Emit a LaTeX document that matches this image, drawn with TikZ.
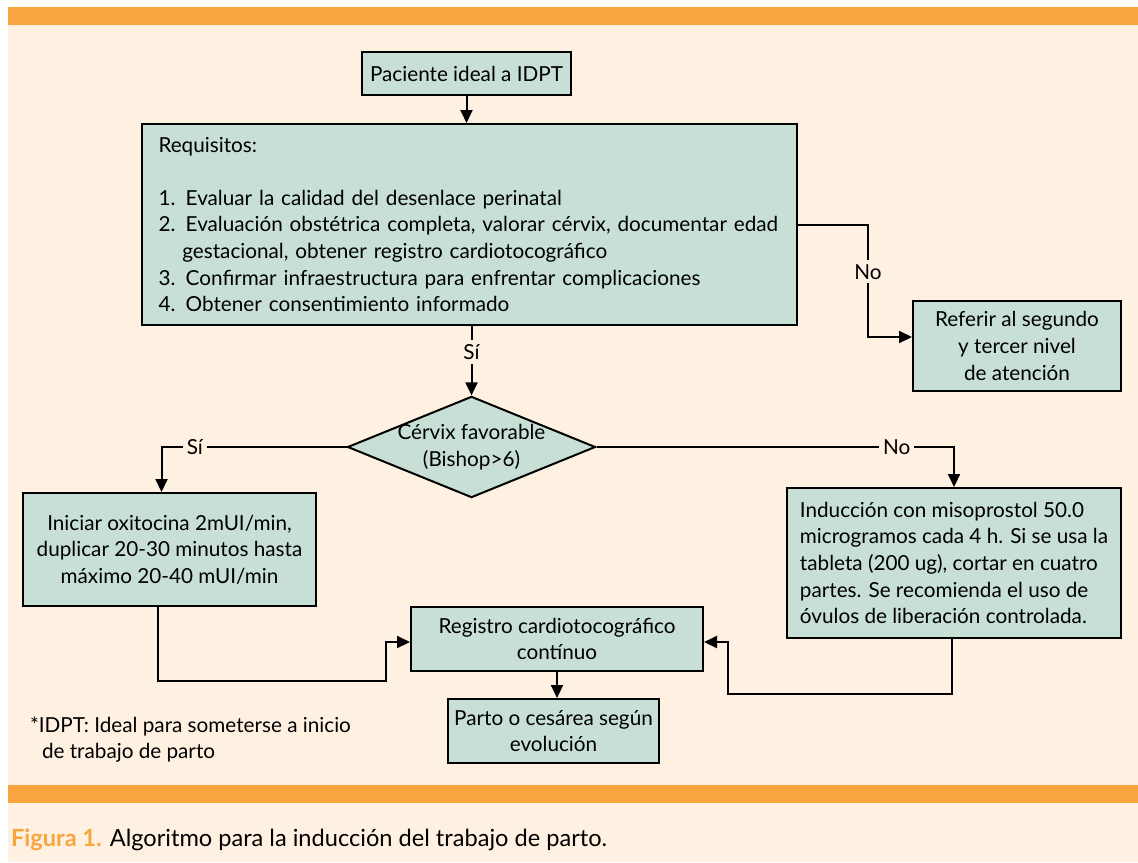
\documentclass[tikz,border=0pt]{standalone}
\usepackage{fontspec}
\setmainfont{Lato}
\usetikzlibrary{arrows.meta,positioning,calc,shapes.geometric}
\definecolor{crema}{RGB}{254,241,226}
\definecolor{naranja}{RGB}{248,165,63}
\definecolor{verde}{RGB}{199,223,212}
\newcommand{\txtsz}{\fontsize{10.35}{13.3}\selectfont}
\newcommand{\capsz}{\fontsize{11.8}{14}\selectfont}

\begin{document}
\begin{tikzpicture}[x=0.5pt,y=-0.5pt,>={Triangle[length=6.5pt,width=6pt]},line width=1pt,
  bx/.style={rectangle,draw,fill=verde,inner sep=0pt,align=center,font=\txtsz},
  dm/.style={diamond,draw,fill=verde,inner sep=-0.8pt,aspect=2.45,align=center,font=\txtsz},
  lb/.style={fill=crema,inner sep=2pt,font=\txtsz}]
\useasboundingbox (0,0) rectangle (1138,862);
\fill[white] (0,0) rectangle (1138,862);
\fill[crema] (8,25) rectangle (1138,862);
\fill[naranja] (8,7) rectangle (1138,25);
\fill[naranja] (8,785) rectangle (1138,803);
\node[bx,minimum width=104.5pt,minimum height=21.5pt] (pac) at (466.5,73.5) {Paciente ideal a IDPT};
\node[bx,minimum width=327.5pt,minimum height=100.5pt,text width=311pt,align=left] (req) at (469.5,224.5)
  {Requisitos:\\[13.3pt]
   1. Evaluar la calidad del desenlace perinatal\\
   \mbox{2. Evaluación obstétrica completa, valorar cérvix, documentar edad}\\
   \phantom{2.} gestacional, obtener registro cardiotocográfico\\
   3. Confirmar infraestructura para enfrentar complicaciones\\
   4. Obtener consentimiento informado};
\node[bx,minimum width=104pt,minimum height=45pt] (ref) at (1017,346) {Referir al segundo\\y tercer nivel\\de atención};
\node[dm,minimum width=123.5pt,minimum height=50.5pt] (cvx) at (471.5,447) {Cérvix favorable\\(Bishop>6)};
\node[bx,minimum width=146.5pt,minimum height=56.5pt] (ini) at (169.5,549.5) {Iniciar oxitocina 2mUI/min,\\duplicar 20-30 minutos hasta\\máximo 20-40 mUI/min};
\node[bx,minimum width=167pt,minimum height=75pt,align=left] (ind) at (954,563)
  {Inducción con misoprostol 50.0\\microgramos cada 4 h. Si se usa la\\tableta (200 ug), cortar en cuatro\\partes. Se recomienda el uso de\\óvulos de liberación controlada.};
\node[bx,minimum width=146pt,minimum height=32pt] (reg) at (557,639) {Registro cardiotocográfico\\contínuo};
\node[bx,minimum width=105.5pt,minimum height=32pt] (par) at (553.5,731) {Parto o cesárea según\\evolución};
\node[anchor=west,align=left,font=\txtsz,inner sep=0pt] (nota) at (29,739.5) {*IDPT: Ideal para someterse a inicio\\\hspace*{6pt}de trabajo de parto};
\node[anchor=west,font=\capsz,inner sep=0pt] (fig) at (10,840) {{\color{naranja}\bfseries Figura 1.} Algoritmo para la inducción del trabajo de parto.};
\coordinate (k1) at (868,337);
\coordinate (k2) at (386,681);
\coordinate (k3) at (728,694);
\draw[->] (pac.south) -- (pac.south|-req.north);
\draw[->] (req.east) -| node[lb,pos=0.71]{No} (k1) -- (k1-|ref.west);
\draw[->] (cvx.north|-req.south) -- node[lb,pos=0.375]{Sí} (cvx.north);
\draw[->] (cvx.west) -| node[lb,pos=0.41]{Sí} ([xshift=-4pt]ini.north);
\draw[->] (cvx.east) -| node[lb,pos=0.42]{No} (ind.north);
\draw[->] ([xshift=-6pt]ini.south) |- (k2) |- ([yshift=-1.5pt]reg.west);
\draw[->] ([xshift=-1pt]ind.south) |- (k3) |- ([yshift=-1.5pt]reg.east);
\draw[->] (reg.south) -- (reg.south|-par.north);
\end{tikzpicture}
\end{document}
